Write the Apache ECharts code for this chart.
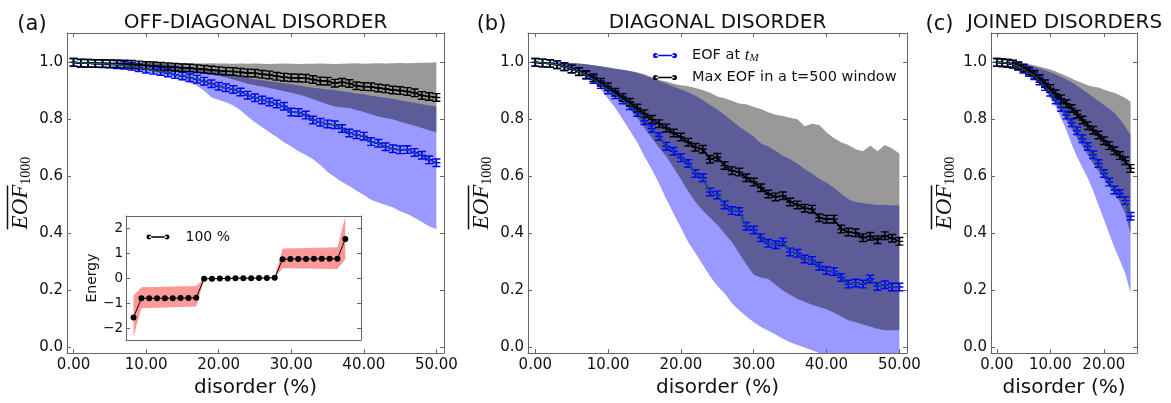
<!DOCTYPE html>
<html><head><meta charset="utf-8">
<script src="https://cdn.jsdelivr.net/npm/echarts@6/dist/echarts.min.js"></script>
<style>html,body{margin:0;padding:0;background:#fff}#c{width:1171px;height:403px}</style>
</head><body><div id="c"></div>
<script>
// ---------- data ----------
const disorderAB = [0,1,2,3,4,5,6,7,8,9,10,11,12,13,14,15,16,17,18,19,20,21,22,23,24,25,26,27,28,29,30,31,32,33,34,35,36,37,38,39,40,41,42,43,44,45,46,47,48,49,50];
const disorderC = [0,1,2,3,4,5,6,7,8,9,10,11,12,13,14,15,16,17,18,19,20,21,22,23,24,25];
const xTicksAB = [0,10,20,30,40,50];
const xTicksC = [0,10,20];
const yTicks = [0,0.2,0.4,0.6,0.8,1.0];

// (a) off-diagonal disorder
const blueA = [1.000,0.998,0.997,0.996,0.995,0.994,0.992,0.990,0.986,0.981,0.976,
  0.972,0.968,0.963,0.957,0.952,0.946,0.941,0.934,0.925,0.916,
  0.911,0.905,0.896,0.885,0.876,0.868,0.861,0.854,0.846,0.826,
  0.824,0.815,0.798,0.790,0.784,0.781,0.768,0.752,0.746,0.741,
  0.722,0.716,0.704,0.697,0.693,0.694,0.684,0.674,0.658,0.648];
const blueLoA = [1.000,0.998,0.996,0.993,0.990,0.986,0.981,0.977,0.972,0.968,0.964,
  0.960,0.955,0.950,0.944,0.937,0.928,0.918,0.900,0.878,0.868,
  0.860,0.849,0.832,0.810,0.790,0.772,0.755,0.738,0.720,0.705,
  0.688,0.675,0.660,0.640,0.615,0.598,0.580,0.566,0.550,0.535,
  0.518,0.508,0.500,0.492,0.478,0.468,0.455,0.440,0.425,0.415];
const blueHiA = [1.000,1.000,1.000,1.000,1.000,1.000,1.000,1.000,1.000,0.999,0.998,
  0.997,0.995,0.993,0.990,0.986,0.982,0.978,0.975,0.971,0.968,
  0.963,0.957,0.951,0.945,0.941,0.937,0.934,0.930,0.926,0.923,
  0.919,0.915,0.911,0.908,0.905,0.903,0.899,0.895,0.891,0.888,
  0.883,0.879,0.876,0.872,0.867,0.862,0.858,0.853,0.849,0.845];
const blackA = [1.000,0.997,0.997,0.996,0.996,0.995,0.995,0.994,0.993,0.991,0.989,
  0.988,0.986,0.985,0.983,0.981,0.980,0.978,0.976,0.973,0.971,
  0.969,0.968,0.965,0.963,0.962,0.958,0.956,0.951,0.948,0.946,
  0.945,0.944,0.940,0.935,0.934,0.927,0.930,0.926,0.918,0.915,
  0.914,0.910,0.907,0.903,0.901,0.898,0.893,0.884,0.880,0.877];
const blackLoA = [1.000,0.997,0.996,0.995,0.994,0.993,0.992,0.990,0.988,0.985,0.982,
  0.980,0.977,0.975,0.972,0.969,0.966,0.963,0.960,0.957,0.953,
  0.947,0.940,0.933,0.925,0.920,0.915,0.910,0.905,0.899,0.893,
  0.887,0.880,0.871,0.862,0.853,0.845,0.842,0.840,0.833,0.826,
  0.818,0.810,0.805,0.800,0.792,0.785,0.778,0.770,0.762,0.755];
const blackHiA = [1.000,1.000,1.000,1.000,1.000,1.000,1.000,1.000,1.000,1.000,1.000,
  1.000,1.000,0.999,0.998,0.998,0.997,0.997,0.996,0.997,0.996,
  0.996,0.995,0.996,0.995,0.996,0.995,0.994,0.995,0.996,0.995,
  0.994,0.995,0.995,0.996,0.995,0.994,0.995,0.996,0.997,0.995,
  0.996,0.997,0.996,0.997,0.998,0.997,0.998,0.999,0.999,1.000];

// (b) diagonal disorder
const blueB = [1.000,0.998,0.996,0.992,0.985,0.977,0.967,0.955,0.940,0.922,0.903,
  0.886,0.868,0.848,0.824,0.795,0.768,0.740,0.706,0.688,0.665,
  0.645,0.610,0.595,0.545,0.535,0.500,0.480,0.477,0.425,0.412,
  0.385,0.365,0.360,0.370,0.335,0.330,0.310,0.305,0.285,0.270,
  0.266,0.245,0.222,0.226,0.222,0.240,0.214,0.220,0.212,0.212];
const blueLoB = [1.000,0.997,0.994,0.990,0.983,0.975,0.964,0.950,0.932,0.905,0.872,
  0.840,0.800,0.760,0.720,0.670,0.625,0.575,0.520,0.470,0.420,
  0.370,0.330,0.290,0.250,0.215,0.190,0.155,0.130,0.108,0.088,
  0.072,0.058,0.045,0.030,0.018,0.008,0.000,-0.010,-0.020,-0.030,
  -0.035,-0.045,-0.050,-0.055,-0.060,-0.065,-0.070,-0.075,-0.080,-0.085];
const blueHiB = [1.000,1.000,1.000,1.000,0.999,0.998,0.996,0.993,0.990,0.986,0.982,
  0.978,0.974,0.970,0.963,0.955,0.945,0.935,0.925,0.915,0.905,
  0.895,0.883,0.868,0.850,0.835,0.815,0.795,0.775,0.757,0.740,
  0.715,0.705,0.690,0.672,0.660,0.645,0.625,0.610,0.592,0.578,
  0.560,0.540,0.520,0.510,0.506,0.503,0.500,0.500,0.499,0.498];
const blackB = [1.000,0.998,0.996,0.992,0.985,0.977,0.968,0.957,0.946,0.930,0.914,
  0.895,0.877,0.860,0.840,0.820,0.800,0.785,0.770,0.752,0.738,
  0.720,0.702,0.695,0.660,0.667,0.638,0.620,0.615,0.595,0.580,
  0.560,0.538,0.528,0.532,0.510,0.500,0.488,0.485,0.455,0.450,
  0.450,0.415,0.405,0.402,0.385,0.390,0.378,0.392,0.383,0.372];
const blackLoB = [1.000,0.998,0.996,0.992,0.985,0.976,0.966,0.955,0.943,0.925,0.905,
  0.887,0.860,0.835,0.805,0.770,0.735,0.700,0.670,0.630,0.590,
  0.548,0.510,0.480,0.455,0.430,0.400,0.370,0.330,0.290,0.255,
  0.245,0.240,0.220,0.200,0.185,0.170,0.160,0.150,0.142,0.134,
  0.122,0.108,0.095,0.088,0.080,0.073,0.065,0.060,0.060,0.060];
const blackHiB = [1.000,1.000,1.000,1.000,0.999,0.998,0.996,0.993,0.990,0.986,0.982,
  0.978,0.974,0.970,0.965,0.958,0.948,0.938,0.933,0.925,0.920,
  0.916,0.910,0.903,0.893,0.880,0.874,0.865,0.856,0.853,0.843,
  0.836,0.825,0.816,0.812,0.806,0.800,0.776,0.785,0.780,0.755,
  0.735,0.720,0.710,0.695,0.688,0.708,0.688,0.710,0.698,0.680];

// (c) joined disorders
const blueC = [1.000,0.999,0.997,0.993,0.986,0.976,0.964,0.953,0.935,0.915,0.895,
  0.868,0.842,0.815,0.788,0.760,0.732,0.705,0.676,0.645,0.610,
  0.580,0.552,0.540,0.515,0.460];
const blueLoC = [1.000,0.998,0.995,0.991,0.983,0.972,0.958,0.942,0.925,0.902,0.873,
  0.845,0.805,0.762,0.712,0.668,0.630,0.593,0.550,0.500,0.450,
  0.400,0.350,0.305,0.260,0.190];
const blueHiC = [1.000,1.000,0.999,0.998,0.996,0.993,0.990,0.985,0.979,0.972,0.965,
  0.958,0.949,0.940,0.930,0.918,0.905,0.892,0.878,0.865,0.850,
  0.838,0.822,0.800,0.775,0.745];
const blackC = [1.000,0.999,0.997,0.994,0.988,0.980,0.970,0.958,0.943,0.925,0.908,
  0.890,0.872,0.855,0.838,0.818,0.798,0.778,0.762,0.745,0.725,
  0.708,0.690,0.673,0.655,0.628];
const blackLoC = [1.000,0.999,0.997,0.993,0.987,0.978,0.962,0.944,0.925,0.905,0.882,
  0.855,0.828,0.795,0.765,0.735,0.705,0.675,0.645,0.618,0.592,
  0.565,0.538,0.510,0.470,0.400];
const blackHiC = [1.000,1.000,1.000,0.999,0.998,0.996,0.993,0.990,0.985,0.980,0.975,
  0.968,0.960,0.952,0.943,0.935,0.928,0.920,0.914,0.912,0.905,
  0.898,0.893,0.885,0.875,0.862];

// inset: energy levels
const levelIndex = [0,1,2,3,4,5,6,7,8,9,10,11,12,13,14,15,16,17,18,19,20,21,22,23,24,25,26,27];
const energy = [-1.57,-0.80,-0.80,-0.80,-0.80,-0.80,-0.79,-0.79,-0.78,
  -0.02,-0.02,-0.01,-0.01,0.00,0.00,0.00,0.01,0.01,0.02,
  0.76,0.77,0.77,0.77,0.78,0.78,0.78,0.78,1.57];
const energyLo = [-2.33,-1.20,-1.19,-1.18,-1.17,-1.16,-1.15,-1.14,-1.13,
  -0.04,-0.04,-0.03,-0.03,-0.02,-0.02,-0.02,-0.01,-0.01,0.00,
  0.40,0.40,0.39,0.39,0.38,0.38,0.37,0.37,0.76];
const energyHi = [-0.69,-0.36,-0.35,-0.35,-0.34,-0.33,-0.32,-0.32,-0.31,
  0.00,0.00,0.01,0.01,0.02,0.02,0.02,0.03,0.03,0.04,
  1.19,1.20,1.20,1.21,1.22,1.22,1.23,1.24,2.47];
const energyTicks = [-2,-1,0,1,2];

const NAME_BLUE = 'EOF at t_M';
const NAME_BLACK = 'Max EOF in a t=500 window';
const NAME_INSET = '100 %';

// ---------- helpers ----------
const FONT = 'DejaVu Sans';
const TXT = '#111';
const FRAME = '#666666';
const EB = 'path://M0,0H8V1.6H4.85V4.2H8V5.8H4.85V8.4H8V10H0V8.4H3.15V5.8H0V4.2H3.15V1.6H0Z';
const LEG = 'path://M0,4a2.6,2.6 0 1,0 5.2,0a2.6,2.6 0 1,0 -5.2,0ZM18.8,4a2.6,2.6 0 1,0 5.2,0a2.6,2.6 0 1,0 -5.2,0ZM2.6,3.3H21.4V4.7H2.6Z';
const P = (xs, ys) => xs.map((x, i) => [x, ys[i]]);

// filled band between lo and hi, drawn as one polygon through the axis scales
function band(k, xs, lo, hi, color, z) {
  return {type:'custom', xAxisIndex:k, yAxisIndex:k, z:z, silent:true,
    data:xs.map((x, i) => [x, lo[i], hi[i]]),
    encode:{x:0, y:[1,2]},
    renderItem:(params, api) => {
      if (params.dataIndex !== 0) return null;
      const pts = [];
      for (let i = 0; i < xs.length; i++) pts.push(api.coord([xs[i], hi[i]]));
      for (let i = xs.length - 1; i >= 0; i--) pts.push(api.coord([xs[i], lo[i]]));
      const cs = params.coordSys;
      return {type:'polygon', shape:{points:pts}, style:{fill:color, stroke:null},
        clipPath:{type:'rect', shape:{x:cs.x, y:cs.y, width:cs.width, height:cs.height}}};
    }};
}
function meanLine(k, xs, ys, name, color, z) {
  return {type:'line', name:name, xAxisIndex:k, yAxisIndex:k, data:P(xs, ys), symbol:EB,
    symbolSize:[8,9], itemStyle:{color:color}, lineStyle:{color:color, width:1.6}, z:z,
    silent:true, emphasis:{disabled:true}};
}
function panel(k, xs, b, bl, bh, k2, kl, kh) {
  return [
    band(k, xs, bl, bh, 'rgba(0,0,255,0.4)', 1),
    band(k, xs, kl, kh, 'rgba(0,0,0,0.4)', 1),
    meanLine(k, xs, b, NAME_BLUE, '#0000ff', 3),
    meanLine(k, xs, k2, NAME_BLACK, '#000000', 4),
    {type:'line', name:'fit' + k, xAxisIndex:k, yAxisIndex:k, data:P(xs, b), symbol:'none',
     lineStyle:{color:'#1b7a3c', width:1}, z:5, silent:true, emphasis:{disabled:true}}
  ];
}

const tickStyle = {show:true, inside:true, length:4, lineStyle:{color:FRAME, width:1}};
function xAxisMain(gi, min, max, ticks) {
  return {type:'value', gridIndex:gi, min:min, max:max, z:10,
    axisLine:{show:true, onZero:false, lineStyle:{color:FRAME, width:1}},
    axisTick:Object.assign({customValues:ticks}, tickStyle),
    axisLabel:{customValues:ticks, formatter:v => v.toFixed(2), fontSize:15, color:TXT, fontFamily:FONT, margin:5},
    splitLine:{show:false},
    name:'disorder (%)', nameLocation:'middle', nameGap:22,
    nameTextStyle:{fontSize:20, color:TXT, fontFamily:FONT}};
}
function xAxisTop(gi, min, max, ticks) {
  return {type:'value', gridIndex:gi, position:'top', min:min, max:max, z:10,
    axisLine:{show:true, onZero:false, lineStyle:{color:FRAME, width:1}},
    axisTick:Object.assign({customValues:ticks}, tickStyle),
    axisLabel:{show:false}, splitLine:{show:false}};
}
const yName = '{ol|}\n{e|EOF}{s|1000}';
const yNameStyle = {color:TXT, rich:{
  ol:{width:44, height:1.5, lineHeight:3, backgroundColor:'#111', align:'left'},
  e:{fontFamily:'Liberation Serif', fontStyle:'italic', fontSize:23, lineHeight:24, color:TXT},
  s:{fontFamily:'Liberation Serif', fontSize:14, lineHeight:14, verticalAlign:'bottom', color:TXT}
}};
function yAxisMain(gi) {
  return {type:'value', gridIndex:gi, min:-0.02, max:1.103, z:10,
    axisLine:{show:true, onZero:false, lineStyle:{color:FRAME, width:1}},
    axisTick:Object.assign({customValues:yTicks}, tickStyle),
    axisLabel:{customValues:yTicks, formatter:v => v.toFixed(1), fontSize:15, color:TXT, fontFamily:FONT, margin:4},
    splitLine:{show:false},
    name:yName, nameLocation:'middle', nameGap:34, nameTextStyle:yNameStyle};
}
function yAxisRight(gi, min, max, ticks) {
  return {type:'value', gridIndex:gi, position:'right', min:min, max:max, z:10,
    axisLine:{show:true, onZero:false, lineStyle:{color:FRAME, width:1}},
    axisTick:Object.assign({customValues:ticks}, tickStyle),
    axisLabel:{show:false}, splitLine:{show:false}};
}

const option = {
  animation:false,
  backgroundColor:'#fff',
  grid:[
    {left:67, top:33, width:377, height:328},
    {left:528, top:33, width:379, height:328},
    {left:991, top:33, width:146, height:328},
    {left:126, top:216, width:235, height:124, show:true, backgroundColor:'#fff', borderWidth:0, z:8}
  ],
  xAxis:[
    xAxisMain(0, -0.9, 51.05, xTicksAB),
    xAxisMain(1, -1.0, 51.05, xTicksAB),
    xAxisMain(2, -1.1, 26.2, xTicksC),
    {type:'value', gridIndex:3, min:-0.96, max:29, z:12,
      axisLine:{show:true, onZero:false, lineStyle:{color:FRAME, width:1}},
      axisTick:{show:false}, axisLabel:{show:false}, splitLine:{show:false}},
    xAxisTop(0, -0.9, 51.05, xTicksAB),
    xAxisTop(1, -1.0, 51.05, xTicksAB),
    xAxisTop(2, -1.1, 26.2, xTicksC),
    {type:'value', gridIndex:3, position:'top', min:-0.96, max:29, z:12,
      axisLine:{show:true, onZero:false, lineStyle:{color:FRAME, width:1}},
      axisTick:{show:false}, axisLabel:{show:false}, splitLine:{show:false}}
  ],
  yAxis:[
    yAxisMain(0), yAxisMain(1), yAxisMain(2),
    {type:'value', gridIndex:3, min:-2.47, max:2.49, z:12,
      axisLine:{show:true, onZero:false, lineStyle:{color:FRAME, width:1}},
      axisTick:Object.assign({customValues:energyTicks}, tickStyle),
      axisLabel:{customValues:energyTicks, formatter:v => (v < 0 ? '\u2212' + (-v) : '' + v),
        fontSize:13.5, color:TXT, fontFamily:FONT, margin:3},
      splitLine:{show:false},
      name:'Energy', nameLocation:'middle', nameGap:23,
      nameTextStyle:{fontSize:14, color:TXT, fontFamily:FONT}},
    yAxisRight(0, -0.02, 1.103, yTicks),
    yAxisRight(1, -0.02, 1.103, yTicks),
    yAxisRight(2, -0.02, 1.103, yTicks),
    Object.assign(yAxisRight(3, -2.47, 2.49, energyTicks), {z:12})
  ],
  legend:[
    {data:[{name:NAME_BLUE, icon:LEG}, {name:NAME_BLACK, icon:LEG}],
      orient:'vertical', left:648, top:42, itemWidth:24, itemHeight:6, itemGap:6,
      selectedMode:false,
      formatter:n => (n === NAME_BLUE ? 'EOF at {t|t}{m|M}' : n),
      textStyle:{fontFamily:FONT, fontSize:14.5, color:TXT, padding:[0,0,0,10],
        rich:{t:{fontFamily:'Liberation Serif', fontStyle:'italic', fontSize:17, color:TXT},
              m:{fontFamily:'Liberation Serif', fontStyle:'italic', fontSize:11, color:TXT, verticalAlign:'bottom', lineHeight:10}}}},
    {data:[{name:NAME_INSET, icon:LEG}], orient:'vertical', left:141.5, top:225,
      itemWidth:23, itemHeight:6, selectedMode:false, z:14,
      textStyle:{fontFamily:FONT, fontSize:14, color:TXT, padding:[0,0,0,11]}}
  ],
  graphic:[
    {type:'text', x:32, y:25, style:{text:'(a)', fontSize:21, fontFamily:FONT, fill:TXT, align:'center', verticalAlign:'middle'}},
    {type:'text', x:255.5, y:23, style:{text:'OFF-DIAGONAL DISORDER', fontSize:20, fontFamily:FONT, fill:TXT, align:'center', verticalAlign:'middle'}},
    {type:'text', x:491.5, y:25, style:{text:'(b)', fontSize:21, fontFamily:FONT, fill:TXT, align:'center', verticalAlign:'middle'}},
    {type:'text', x:717.5, y:23, style:{text:'DIAGONAL DISORDER', fontSize:20, fontFamily:FONT, fill:TXT, align:'center', verticalAlign:'middle'}},
    {type:'text', x:939.5, y:25, style:{text:'(c)', fontSize:21, fontFamily:FONT, fill:TXT, align:'center', verticalAlign:'middle'}},
    {type:'text', x:1064.5, y:23, style:{text:'JOINED DISORDERS', fontSize:20, fontFamily:FONT, fill:TXT, align:'center', verticalAlign:'middle'}}
  ],
  series:[].concat(
    panel(0, disorderAB, blueA, blueLoA, blueHiA, blackA, blackLoA, blackHiA),
    panel(1, disorderAB, blueB, blueLoB, blueHiB, blackB, blackLoB, blackHiB),
    panel(2, disorderC, blueC, blueLoC, blueHiC, blackC, blackLoC, blackHiC),
    [band(3, levelIndex, energyLo, energyHi, 'rgba(255,0,0,0.4)', 9),
     {type:'line', name:NAME_INSET, xAxisIndex:3, yAxisIndex:3, data:P(levelIndex, energy),
      symbol:'circle', symbolSize:6, itemStyle:{color:'#000'}, lineStyle:{color:'#000', width:1},
      z:11, silent:true, emphasis:{disabled:true}}]
  )
};
echarts.init(document.getElementById('c'), null, {renderer:'canvas'}).setOption(option);
</script>
</body></html>
